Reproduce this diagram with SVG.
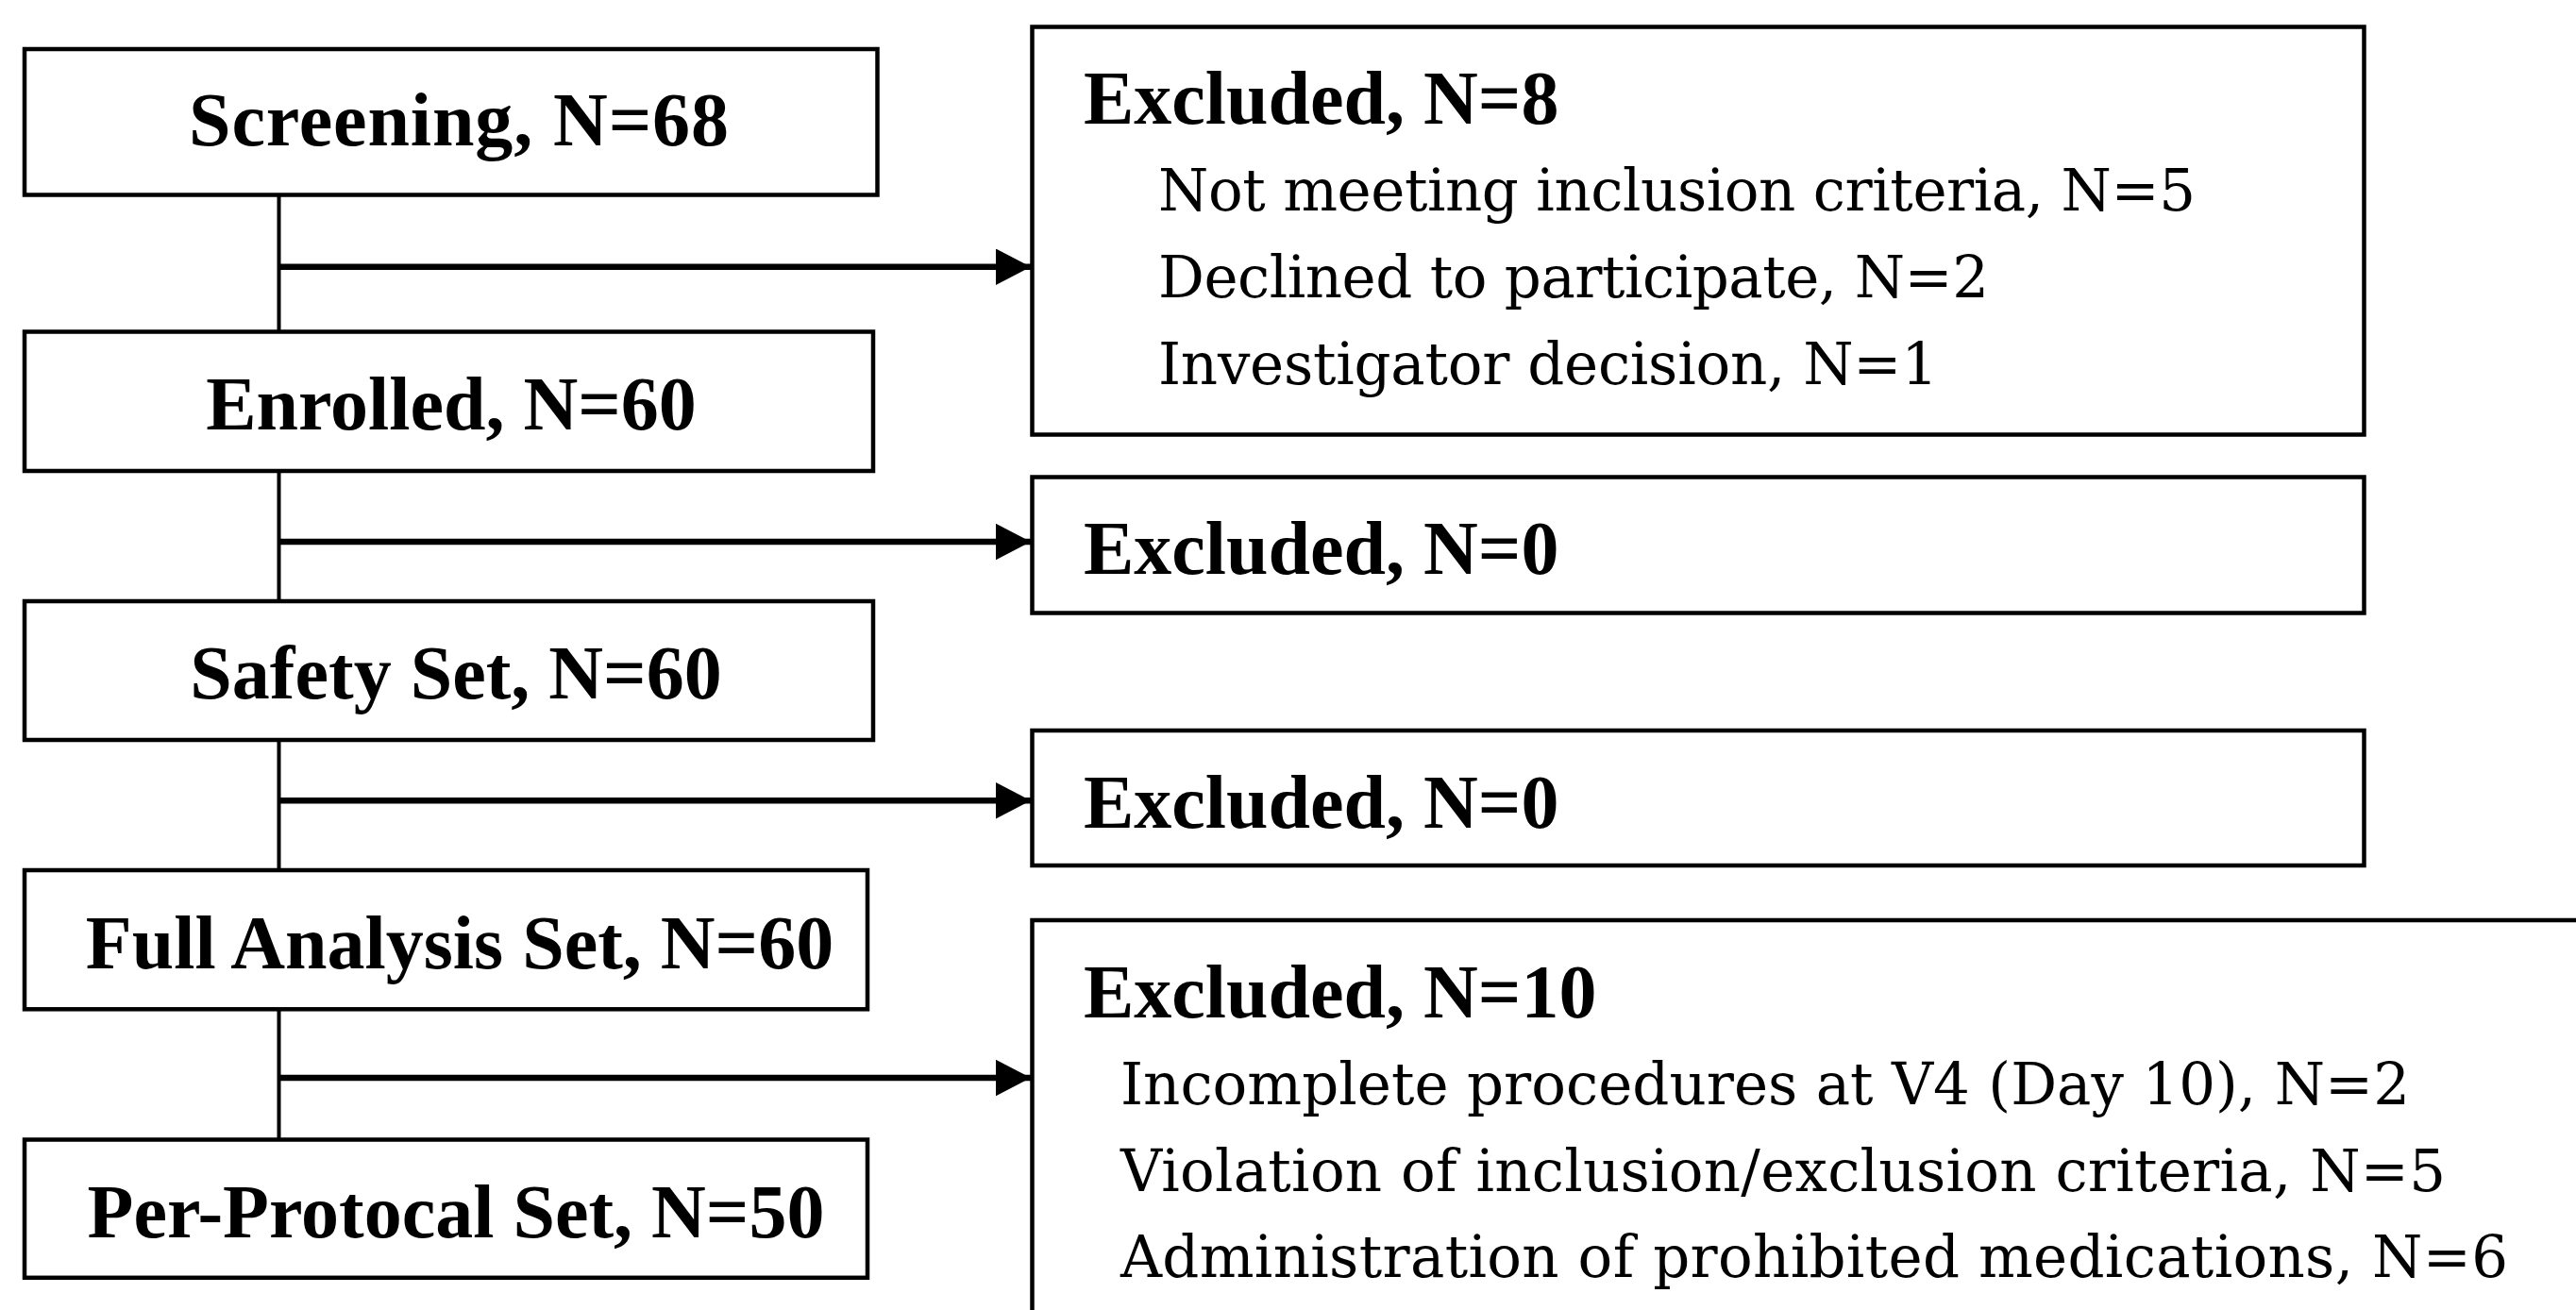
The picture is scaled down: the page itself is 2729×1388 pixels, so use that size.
<svg xmlns="http://www.w3.org/2000/svg" width="2729" height="1388" viewBox="0 0 2729 1388">
  <style>
    .box { fill: #ffffff; stroke: #000000; stroke-width: 4.5; }
    .title { font-family: "Liberation Serif", "Times New Roman", serif; font-weight: bold; font-size: 80px; fill: #000000; }
    .item { font-family: "DejaVu Serif", "Liberation Serif", serif; font-size: 61px; fill: #000000; }
    .vline { stroke: #000000; stroke-width: 4; fill: none; }
    .arrow { stroke: #000000; stroke-width: 6.5; fill: none; marker-end: url(#head); }
  </style>
  <defs>
    <marker id="head" markerUnits="userSpaceOnUse" markerWidth="40" markerHeight="40" refX="37" refY="19.2" orient="auto">
      <path d="M0,0 L37,19.2 L0,38.4 Z" fill="#000000"/>
    </marker>
  </defs>
  <rect x="0" y="0" width="2729" height="1388" fill="#ffffff"/>

  <g id="connectors">
    <line class="vline" x1="295.5" y1="206.5" x2="295.5" y2="351.5"/>
    <line class="vline" x1="295.5" y1="499" x2="295.5" y2="637"/>
    <line class="vline" x1="295.5" y1="784" x2="295.5" y2="922"/>
    <line class="vline" x1="295.5" y1="1069" x2="295.5" y2="1207.5"/>
    <line class="arrow" x1="295.5" y1="282.7" x2="1092" y2="282.7"/>
    <line class="arrow" x1="295.5" y1="574" x2="1092" y2="574"/>
    <line class="arrow" x1="295.5" y1="848.3" x2="1092" y2="848.3"/>
    <line class="arrow" x1="295.5" y1="1142" x2="1092" y2="1142"/>
  </g>

  <g id="screening">
    <rect class="box" x="26" y="52" width="903.5" height="154.5"/>
    <text class="title" x="486" y="154" text-anchor="middle" textLength="572">Screening, N=68</text>
  </g>
  <g id="enrolled">
    <rect class="box" x="26" y="351.5" width="899" height="147.5"/>
    <text class="title" x="478" y="455" text-anchor="middle">Enrolled, N=60</text>
  </g>
  <g id="safety-set">
    <rect class="box" x="26" y="637" width="899" height="147"/>
    <text class="title" x="483" y="740" text-anchor="middle">Safety Set, N=60</text>
  </g>
  <g id="full-analysis-set">
    <rect class="box" x="26" y="922" width="893" height="147.3"/>
    <text class="title" x="487" y="1026" text-anchor="middle">Full Analysis Set, N=60</text>
  </g>
  <g id="per-protocol-set">
    <rect class="box" x="26" y="1207.5" width="893" height="146.3"/>
    <text class="title" x="483" y="1311" text-anchor="middle">Per-Protocal Set, N=50</text>
  </g>

  <g id="excluded-screening">
    <rect class="box" x="1093.5" y="28.5" width="1411" height="432"/>
    <text class="title" x="1148" y="131">Excluded, N=8</text>
    <text class="item" x="1227" y="223" textLength="1099">Not meeting inclusion criteria, N=5</text>
    <text class="item" x="1227" y="315" textLength="880">Declined to participate, N=2</text>
    <text class="item" x="1227" y="407" textLength="826">Investigator decision, N=1</text>
  </g>
  <g id="excluded-enrolled">
    <rect class="box" x="1093.5" y="505.5" width="1411" height="144"/>
    <text class="title" x="1148" y="608">Excluded, N=0</text>
  </g>
  <g id="excluded-safety">
    <rect class="box" x="1093.5" y="774" width="1411" height="143"/>
    <text class="title" x="1148" y="877">Excluded, N=0</text>
  </g>
  <g id="excluded-fas">
    <rect class="box" x="1093.5" y="975" width="1700" height="500"/>
    <text class="title" x="1148" y="1078">Excluded, N=10</text>
    <text class="item" x="1187" y="1170" textLength="1366">Incomplete procedures at V4 (Day 10), N=2</text>
    <text class="item" x="1187" y="1262" textLength="1404">Violation of inclusion/exclusion criteria, N=5</text>
    <text class="item" x="1187" y="1353" textLength="1470">Administration of prohibited medications, N=6</text>
  </g>
</svg>
